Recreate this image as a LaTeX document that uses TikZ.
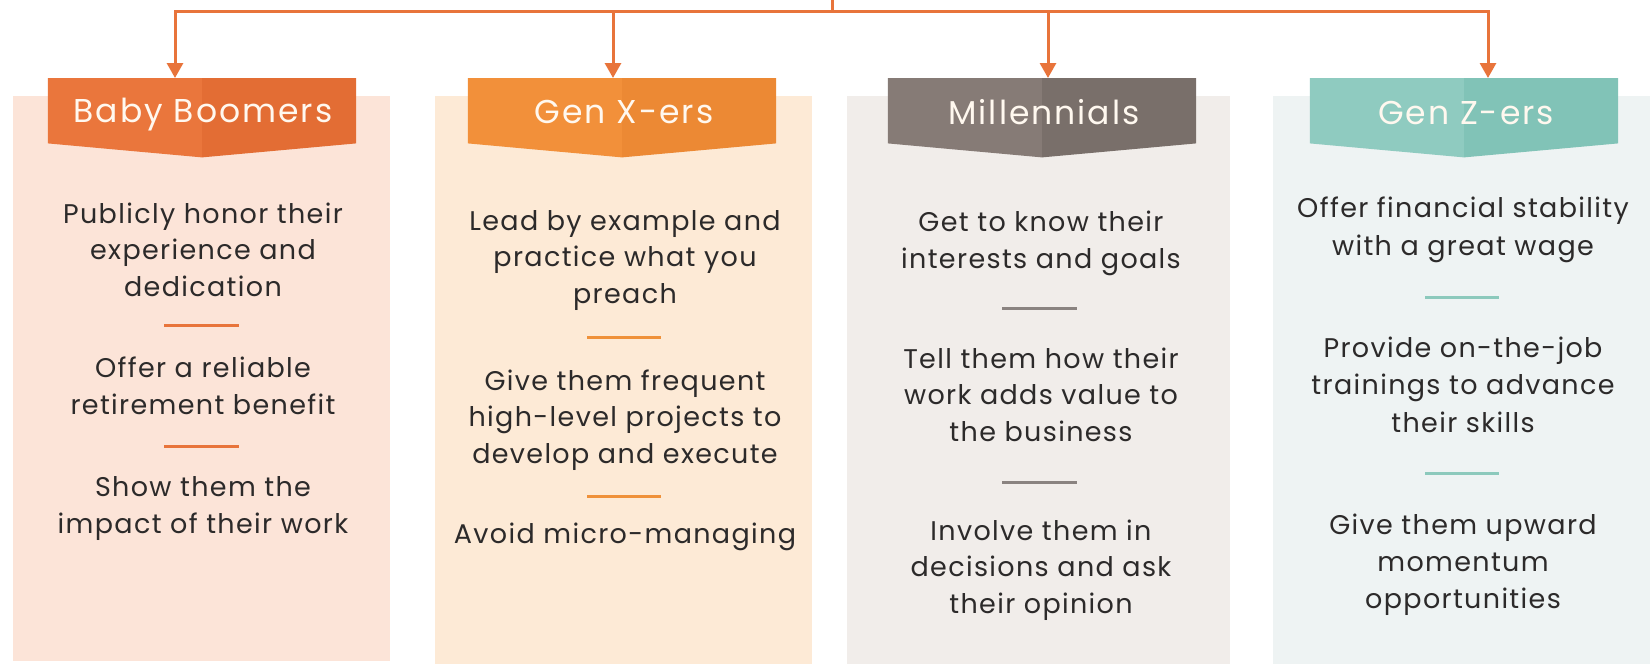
\documentclass[tikz,border=0pt]{standalone}
\usepackage{fontspec}
\setmainfont{Poppins}
\usetikzlibrary{arrows.meta}

\definecolor{connector}{HTML}{E8743B}
\definecolor{inktext}{HTML}{2C2A2A}
\definecolor{bannerink}{HTML}{FFF8EF}
% column palettes: panel, banner left, banner right, divider
\definecolor{panelA}{HTML}{FCE4D8}
\definecolor{bannerAl}{HTML}{EA763C}
\definecolor{bannerAr}{HTML}{E36D34}
\definecolor{ruleA}{HTML}{E8743B}
\definecolor{panelB}{HTML}{FDEAD6}
\definecolor{bannerBl}{HTML}{F2903A}
\definecolor{bannerBr}{HTML}{EC8934}
\definecolor{ruleB}{HTML}{EF913A}
\definecolor{panelC}{HTML}{F1EDEA}
\definecolor{bannerCl}{HTML}{867B76}
\definecolor{bannerCr}{HTML}{796F6A}
\definecolor{ruleC}{HTML}{8A8380}
\definecolor{panelD}{HTML}{EEF3F3}
\definecolor{bannerDl}{HTML}{8FCBC0}
\definecolor{bannerDr}{HTML}{81C3B7}
\definecolor{ruleD}{HTML}{8CC9BC}

\newfontfamily\tipfont[LetterSpace=5]{Poppins}
\newfontfamily\bannerfont[LetterSpace=6]{Poppins}

\tikzset{
  panelbox/.style={draw=none, inner sep=0pt, anchor=north west, minimum height=#1},
  bannerbox/.style={draw=none, inner sep=0pt, anchor=north, minimum width=308pt,
    minimum height=65pt},
  bannertext/.style={text=bannerink, anchor=base, inner sep=0pt,
    font=\bannerfont\fontsize{33pt}{38pt}\selectfont},
  tiptext/.style={align=center, anchor=base, text=inktext, inner sep=0pt,
    font=\tipfont\fontsize{27pt}{36.5pt}\selectfont},
  divider/.style={line width=3pt, #1},
  feed/.style={draw=connector, line width=3pt},
  feedarrow/.style={feed, -{Triangle[width=16pt,length=15pt]}},
}

% chevron banner: two halves in slightly different shades, 14pt point below
\newcommand{\chevronbanner}[3]{%
  \fill[#2] (#1.north west) -- (#1.north) -- ([yshift=-14pt]#1.south) -- (#1.south west) -- cycle;
  \fill[#3] (#1.north) -- (#1.north east) -- (#1.south east) -- ([yshift=-14pt]#1.south) -- cycle;
}

\begin{document}
\begin{tikzpicture}[x=1pt, y=-1pt]
\useasboundingbox (0,0) rectangle (1650,664);
\fill[white] (0,0) rectangle (1650,664);

% column panels
\node[panelbox=565pt, minimum width=377pt, fill=panelA] (p1) at (13,96) {};
\node[panelbox=568pt, minimum width=377pt, fill=panelB] (p2) at (435,96) {};
\node[panelbox=568pt, minimum width=383pt, fill=panelC] (p3) at (847,96) {};
\node[panelbox=568pt, minimum width=377pt, fill=panelD] (p4) at (1273,96) {};

% banner frames with their titles
\node[bannerbox] (b1) at (202,78) {};
\node[bannerbox] (b2) at (622,78) {};
\node[bannerbox] (b3) at (1042,78) {};
\node[bannerbox] (b4) at (1464,78) {};
\chevronbanner{b1}{bannerAl}{bannerAr}
\chevronbanner{b2}{bannerBl}{bannerBr}
\chevronbanner{b3}{bannerCl}{bannerCr}
\chevronbanner{b4}{bannerDl}{bannerDr}
\node[bannertext] (t1) at (203,122) {Baby Boomers};
\node[bannertext] (t2) at (624,123) {Gen X-ers};
\node[bannertext] (t3) at (1044,124) {Millennials};
\node[bannertext] (t4) at (1466,124) {Gen Z-ers};

% feed lines from the top trunk to each banner
\coordinate (stemtop) at (832,0);
\coordinate (stem) at (832,11);
\coordinate (j1) at (175,11);
\coordinate (j2) at (613,11);
\coordinate (j3) at (1048,11);
\coordinate (j4) at (1488,11);
\draw[feed] (stemtop) -- (stem);
\draw[feed, line cap=rect] (j1) -- (j4);
\draw[feedarrow] (j1) -- (j1 |- b1.north);
\draw[feedarrow] (j2) -- (j2 |- b2.north);
\draw[feedarrow] (j3) -- (j3 |- b3.north);
\draw[feedarrow] (j4) -- (j4 |- b4.north);

% Baby Boomers (nodes sit on the baseline of their last line)
\node[tiptext] (a1) at (203,296) {Publicly honor their\\experience and\\dedication};
\draw[divider=ruleA] (164,325) -- (239,325);
\node[tiptext] (a2) at (203,414) {Offer a reliable\\retirement benefit};
\draw[divider=ruleA] (164,446) -- (239,446);
\node[tiptext] (a3) at (203,533) {Show them the\\impact of their work};

% Gen X-ers
\node[tiptext] (x1) at (625,303) {Lead by example and\\practice what you\\preach};
\draw[divider=ruleB] (587,337) -- (661,337);
\node[tiptext] (x2) at (625,463) {Give them frequent\\high-level projects to\\develop and execute};
\draw[divider=ruleB] (587,496) -- (661,496);
\node[tiptext] (x3) at (625,543) {Avoid micro-managing};

% Millennials
\node[tiptext] (m1) at (1041,268) {Get to know their\\interests and goals};
\draw[divider=ruleC] (1002,308) -- (1077,308);
\node[tiptext] (m2) at (1041,441) {Tell them how their\\work adds value to\\the business};
\draw[divider=ruleC] (1002,482) -- (1077,482);
\node[tiptext] (m3) at (1041,613) {Involve them in\\decisions and ask\\their opinion};

% Gen Z-ers
\node[tiptext, font=\tipfont\fontsize{27pt}{37.5pt}\selectfont] (z1) at (1463,255) {Offer financial stability\\with a great wage};
\draw[divider=ruleD] (1425,297) -- (1499,297);
\node[tiptext, font=\tipfont\fontsize{27pt}{37.5pt}\selectfont] (z2) at (1463,432) {Provide on-the-job\\trainings to advance\\their skills};
\draw[divider=ruleD] (1425,473) -- (1499,473);
\node[tiptext, font=\tipfont\fontsize{27pt}{37pt}\selectfont] (z3) at (1463,608) {Give them upward\\momentum\\opportunities};
\end{tikzpicture}
\end{document}
